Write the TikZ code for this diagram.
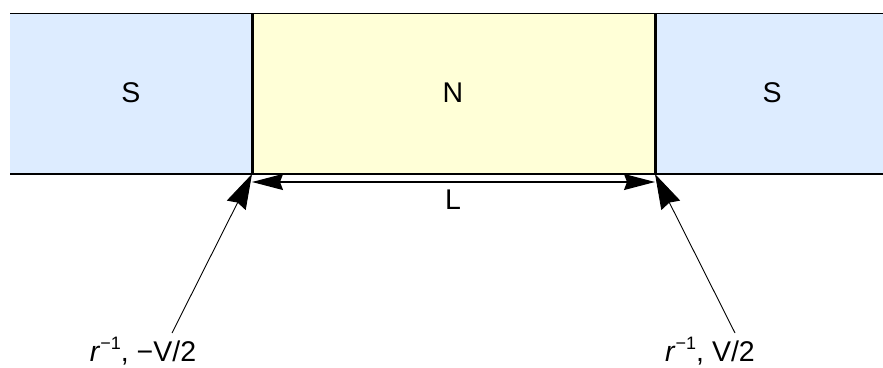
\documentclass[tikz,border=0pt]{standalone}
\usepackage{fontspec}
\setmainfont{Liberation Sans}
\usetikzlibrary{arrows.meta}
\definecolor{sblue}{RGB}{221,236,255}
\definecolor{nyellow}{RGB}{255,255,215}
\begin{document}
\begin{tikzpicture}[x=1pt,y=-1pt,
  lbl/.style={font=\fontsize{28.5}{34}\selectfont, inner sep=0pt},
  edgeline/.style={line width=1.3pt},
  junction/.style={line width=3pt},
  bigtip/.style={-{Stealth[length=35pt,width=21pt,inset=3pt]}, line width=0.9pt},
  dimline/.style={{Stealth[length=31pt,width=16pt,inset=3pt]}-{Stealth[length=31pt,width=16pt,inset=3pt]}, line width=1.2pt}
]
\useasboundingbox (0,0) rectangle (883,367);
% regions
\fill[sblue] (10,13.5) rectangle (252,174);
\fill[nyellow] (252,13.5) rectangle (655,174);
\fill[sblue] (655,13.5) rectangle (883,174);
% corners and junctions
\coordinate (tl) at (10,13.5);
\coordinate (tr) at (883,13.5);
\coordinate (bl) at (10,174);
\coordinate (br) at (883,174);
\coordinate (j1t) at (252,13.5);
\coordinate (j1b) at (252,174);
\coordinate (j2t) at (655,13.5);
\coordinate (j2b) at (655,174);
\draw[edgeline] (tl) -- (tr);
\draw[edgeline] (bl) -- (br);
\draw[junction] (j1t) -- (j1b);
\draw[junction] (j2t) -- (j2b);
% texts
\node[lbl] (sleft) at (131,93) {S};
\node[lbl] (nmid) at (453,93) {N};
\node[lbl] (sright) at (772,93) {S};
\node[lbl] (len) at (453,199.5) {L};
% dimension
\coordinate (d1) at (252,182);
\coordinate (d2) at (655,182);
\draw[dimline] (d1) -- (d2);
% boundary labels
\node[lbl, anchor=base] (lleft) at (143,361) {\textit{r}\raisebox{0.42em}{\fontsize{18}{18}\selectfont −1}, −V/2};
\node[lbl, anchor=base] (lright) at (710,361) {\textit{r}\raisebox{0.42em}{\fontsize{18}{18}\selectfont −1}, V/2};
\coordinate (aleft) at (172,333);
\coordinate (aright) at (735,333);
\draw[bigtip] (aleft) -- (j1b);
\draw[bigtip] (aright) -- (j2b);
\end{tikzpicture}
\end{document}
